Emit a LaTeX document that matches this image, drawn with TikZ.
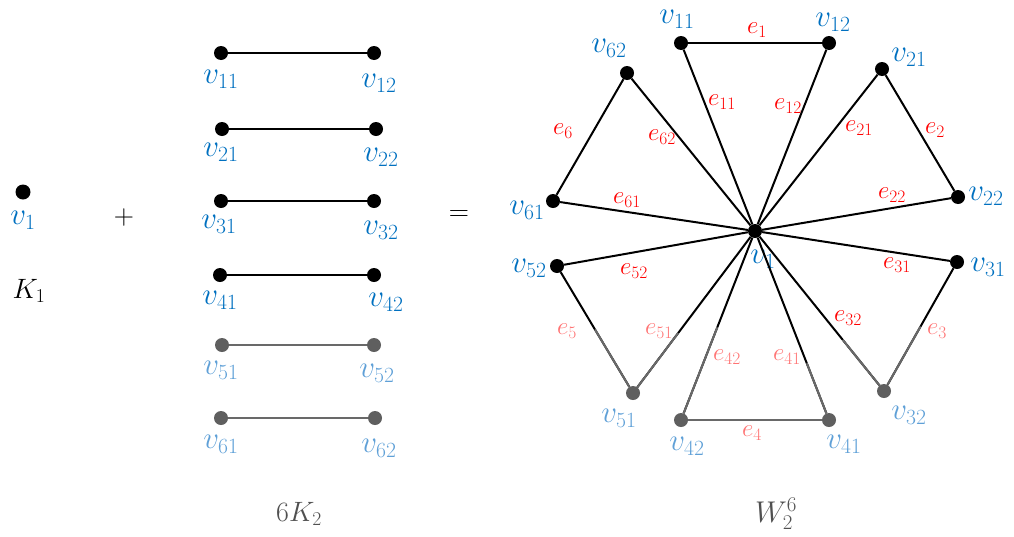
\RequirePackage{fix-cm}
\documentclass[tikz,border=0pt]{standalone}
\usetikzlibrary{calc}
\definecolor{vblue}{RGB}{0,112,192}
\definecolor{vbluef}{RGB}{95,160,215}
\definecolor{ered}{RGB}{255,0,0}
\definecolor{eredf}{RGB}{255,115,115}
\definecolor{dotgray}{RGB}{95,95,95}
\definecolor{linegray}{RGB}{105,105,105}
\definecolor{titlegray}{RGB}{80,80,80}
\begin{document}
\begin{tikzpicture}[x=1pt,y=-1pt,
  dot/.style={circle,fill=black,inner sep=0pt,minimum size=14pt},
  dotf/.style={dot,fill=dotgray},
  vl/.style={text=vblue,font=\fontsize{31}{33}\selectfont,inner sep=0pt},
  vlf/.style={vl,text=vbluef},
  el/.style={text=ered,font=\fontsize{25}{27}\selectfont,inner sep=0pt},
  elf/.style={el,text=eredf},
  big/.style={font=\fontsize{28}{30}\selectfont,inner sep=0pt},
  edge/.style={line width=2pt,draw=black},
  edgef/.style={line width=2pt,draw=linegray},
]
\useasboundingbox (0,0) rectangle (1014,536);

% ---------- K1 ----------
\node[dot,minimum size=15pt] (k) at (23,192) {};
\node[vl] (kl) at (23,220) {$v_1$};
\node[big] (K1) at (29,291) {$K_1$};
\node[big] (plus) at (124,217) {$+$};

% ---------- 6K2 ----------
\node[dot] (a11) at (221,53) {};  \node[dot] (a12) at (374,53) {};
\node[dot] (a21) at (222,129) {}; \node[dot] (a22) at (376,129) {};
\node[dot] (a31) at (221,201) {}; \node[dot] (a32) at (374,201) {};
\node[dot] (a41) at (220,275) {}; \node[dot] (a42) at (374,275) {};
\node[dotf] (a51) at (222,345) {}; \node[dotf] (a52) at (374,345) {};
\node[dotf] (a61) at (221,418) {}; \node[dotf] (a62) at (375,418) {};
\draw[edge] (a11) -- (a12);
\draw[edge] (a21) -- (a22);
\draw[edge] (a31) -- (a32);
\draw[edge] (a41) -- (a42);
\draw[edgef] (a51) -- (a52);
\draw[edgef] (a61) -- (a62);
\node[vl] (la11) at (221,79) {$v_{11}$};  \node[vl] (la12) at (379,83) {$v_{12}$};
\node[vl] (la21) at (221,152) {$v_{21}$}; \node[vl] (la22) at (381,157) {$v_{22}$};
\node[vl] (la31) at (219,224) {$v_{31}$}; \node[vl] (la32) at (381,230) {$v_{32}$};
\node[vl] (la41) at (220,300) {$v_{41}$}; \node[vl] (la42) at (386,302) {$v_{42}$};
\node[vlf] (la51) at (221,370) {$v_{51}$}; \node[vlf] (la52) at (377,373) {$v_{52}$};
\node[vlf] (la61) at (221,444) {$v_{61}$}; \node[vlf] (la62) at (379,448) {$v_{62}$};
\node[big,text=titlegray] (sixK2) at (299,514) {$6K_2$};

\node[big] (eq) at (459,216) {$=$};

% ---------- W_2^6 ----------
\node[vl] (lc) at (763,259) {$v_1$};
\node[dot] (c) at (755,231) {};
\node[dot] (w11) at (681,43) {};
\node[dot] (w12) at (829,43) {};
\node[dot] (w21) at (882,69) {};
\node[dot] (w22) at (958,197) {};
\node[dot] (w31) at (957,262) {};
\node[dotf] (w32) at (884,391) {};
\node[dotf] (w41) at (829,420) {};
\node[dotf] (w42) at (681,420) {};
\node[dotf] (w51) at (633,393) {};
\node[dot] (w52) at (557,266) {};
\node[dot] (w61) at (553,201) {};
\node[dot] (w62) at (627,73) {};

% spokes
\draw[edge] (c) -- (w11);
\draw[edge] (c) -- (w12);
\draw[edge] (c) -- (w21);
\draw[edge] (c) -- (w22);
\draw[edge] (c) -- (w31);
\draw[edge] (c) -- (w52);
\draw[edge] (c) -- (w61);
\draw[edge] (c) -- (w62);
\draw[edge] (c) -- (w32);
\draw[edgef] ($(c.center)!0.68!(w32.center)$) -- (w32);
\draw[edge] (c) -- (w41);
\draw[edgef] ($(c.center)!0.70!(w41.center)$) -- (w41);
\draw[edge] (c) -- (w42);
\draw[edgef] ($(c.center)!0.51!(w42.center)$) -- (w42);
\draw[edge] (c) -- (w51);
\draw[edgef] ($(c.center)!0.63!(w51.center)$) -- (w51);
% rim edges
\draw[edge] (w11) -- (w12);
\draw[edge] (w21) -- (w22);
\draw[edge] (w31) -- (w32);
\draw[edgef] ($(w31.center)!0.5!(w32.center)$) -- (w32);
\draw[edgef] (w41) -- (w42);
\draw[edge] (w52) -- (w51);
\draw[edgef] ($(w52.center)!0.5!(w51.center)$) -- (w51);
\draw[edge] (w61) -- (w62);

% vertex labels
\node[vl] (lw11) at (677,19) {$v_{11}$};
\node[vl] (lw12) at (833,22) {$v_{12}$};
\node[vl] (lw21) at (909,57) {$v_{21}$};
\node[vl] (lw22) at (986,196) {$v_{22}$};
\node[vl] (lw31) at (988,267) {$v_{31}$};
\node[vlf] (lw32) at (909,415) {$v_{32}$};
\node[vlf] (lw41) at (844,444) {$v_{41}$};
\node[vlf] (lw42) at (687,446) {$v_{42}$};
\node[vlf] (lw51) at (619,418) {$v_{51}$};
\node[vl] (lw52) at (529,268) {$v_{52}$};
\node[vl] (lw61) at (527,210) {$v_{61}$};
\node[vl] (lw62) at (609,48) {$v_{62}$};

% edge labels
\node[el] (e1) at (757,30) {$e_1$};
\node[el] (e11) at (722,102) {$e_{11}$};
\node[el] (e12) at (788,106) {$e_{12}$};
\node[el] (e21) at (859,128) {$e_{21}$};
\node[el] (e2) at (935,130) {$e_2$};
\node[el] (e22) at (892,195) {$e_{22}$};
\node[el] (e31) at (897,265) {$e_{31}$};
\node[el] (e32) at (848,318) {$e_{32}$};
\node[elf] (e3) at (937,331) {$e_3$};
\node[elf] (e41) at (787,357) {$e_{41}$};
\node[elf] (e42) at (727,357) {$e_{42}$};
\node[elf] (e4) at (752,433) {$e_4$};
\node[elf] (e51) at (659,331) {$e_{51}$};
\node[elf] (e5) at (567,331) {$e_5$};
\node[el] (e52) at (634,271) {$e_{52}$};
\node[el] (e61) at (627,200) {$e_{61}$};
\node[el] (e62) at (662,137) {$e_{62}$};
\node[el] (e6) at (563,131) {$e_6$};

\node[big,text=titlegray,font=\fontsize{30}{32}\selectfont] (W) at (776,514) {$W_2^6$};
\end{tikzpicture}
\end{document}
